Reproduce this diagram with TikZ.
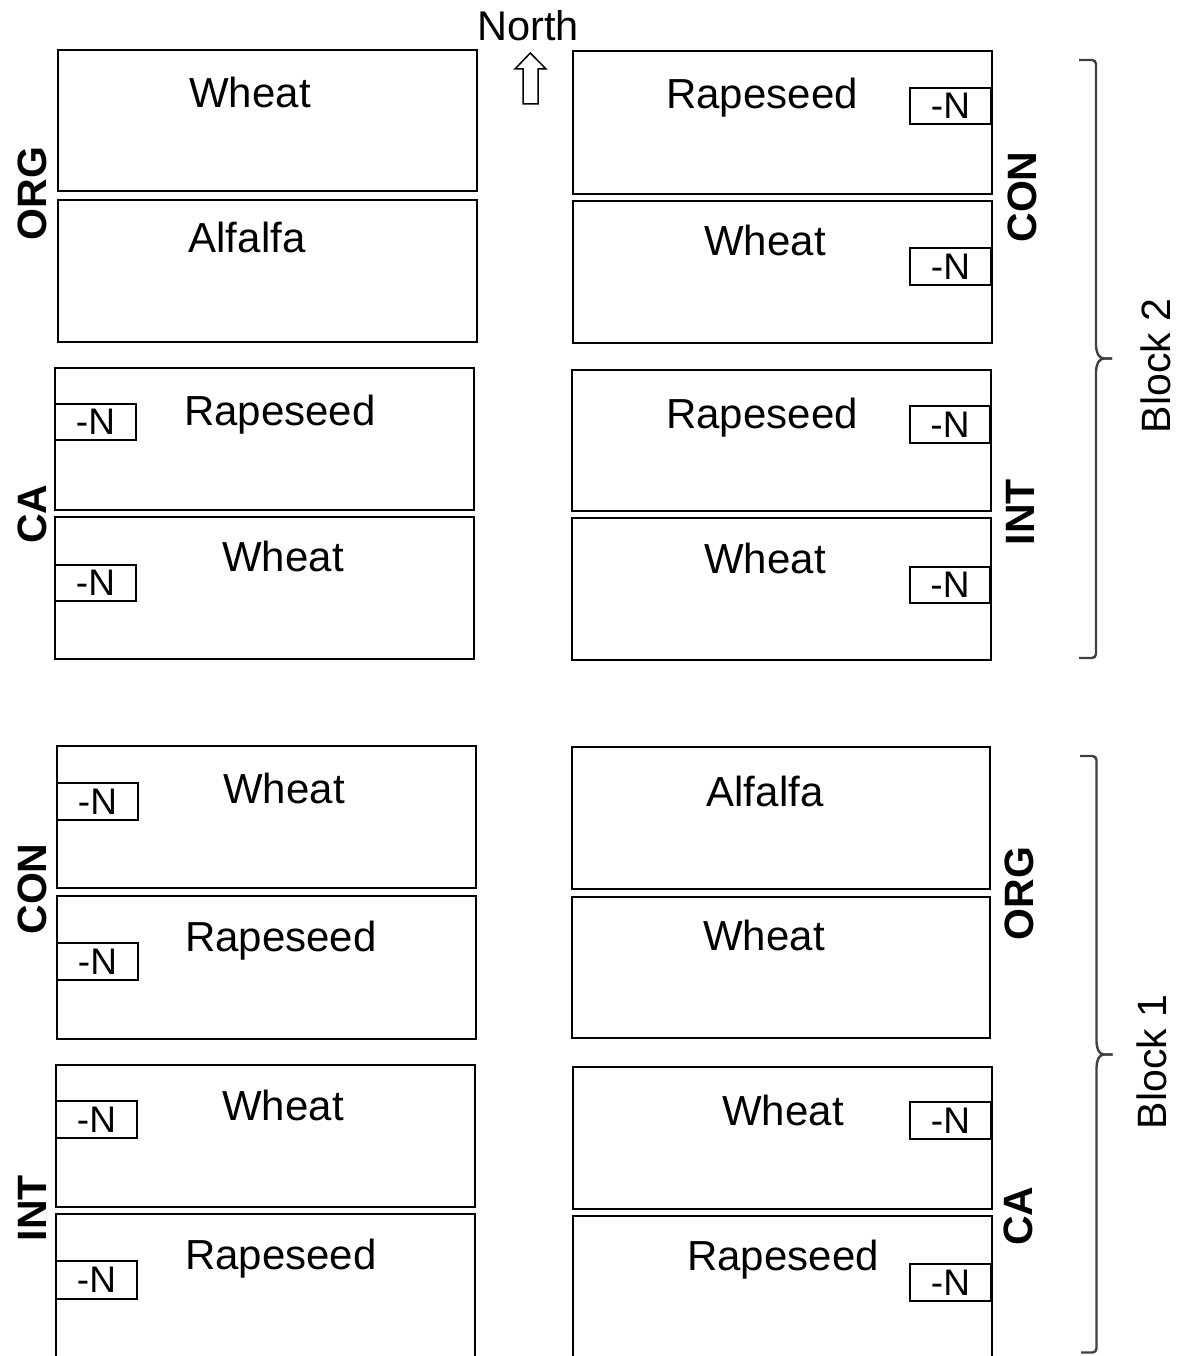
\documentclass[tikz,border=0pt]{standalone}
\usepackage{fontspec}
\setmainfont{Liberation Sans}
\begin{document}
\begin{tikzpicture}[x=1pt,y=-1pt,
  plotbox/.style={draw=black, line width=2pt, inner sep=0pt, outer sep=0pt},
  nbox/.style={draw=black, line width=2pt, inner sep=0pt, outer sep=0pt, font=\fontsize{37}{42}\selectfont},
  crop/.style={anchor=base, inner sep=0pt, font=\fontsize{42}{48}\selectfont},
  sys/.style={rotate=90, inner sep=0pt, font=\fontsize{41}{48}\selectfont\bfseries},
  blocklbl/.style={rotate=90, inner sep=0pt, font=\fontsize{41}{48}\selectfont},
  bracket/.style={draw=black!75, line width=2.4pt, rounded corners=4pt}]
\clip (0,0) rectangle (1180,1356);
\fill[white] (0,0) rectangle (1180,1356);
\newcommand{\fieldplot}[6]{%
  \pgfmathsetmacro{\fpw}{#4-#2}\pgfmathsetmacro{\fph}{#5-#3}%
  \node[#6, minimum width=\fpw pt, minimum height=\fph pt] (#1) at ({(#2+#4)/2},{(#3+#5)/2}) {};}
\newcommand{\nplot}[5]{%
  \pgfmathsetmacro{\fpw}{#4-#2}\pgfmathsetmacro{\fph}{#5-#3}%
  \node[nbox, minimum width=\fpw pt, minimum height=\fph pt] (#1) at ({(#2+#4)/2},{(#3+#5)/2}) {-N};}
% ---- left column, block 2
\fieldplot{L1}{58}{50}{477}{191}{plotbox}
\fieldplot{L2}{58}{200}{477}{342}{plotbox}
\fieldplot{L3}{55}{368}{474}{510}{plotbox}
\fieldplot{L4}{55}{517}{474}{659}{plotbox}
% ---- left column, block 1
\fieldplot{L5}{57}{746}{476}{888}{plotbox}
\fieldplot{L6}{57}{896}{476}{1039}{plotbox}
\fieldplot{L7}{56}{1065}{475}{1207}{plotbox}
\fieldplot{L8}{56}{1214}{475}{1380}{plotbox}
% ---- right column, block 2
\fieldplot{R1}{573}{51}{992}{194}{plotbox}
\fieldplot{R2}{573}{201}{992}{343}{plotbox}
\fieldplot{R3}{572}{370}{991}{511}{plotbox}
\fieldplot{R4}{572}{518}{991}{660}{plotbox}
% ---- right column, block 1
\fieldplot{R5}{572}{747}{990}{889}{plotbox}
\fieldplot{R6}{572}{897}{990}{1038}{plotbox}
\fieldplot{R7}{573}{1067}{992}{1209}{plotbox}
\fieldplot{R8}{573}{1216}{992}{1380}{plotbox}
% ---- -N boxes
\nplot{nL3}{55}{404}{136}{440}
\nplot{nL4}{55}{565}{136}{601}
\nplot{nL5}{57}{783}{138}{820}
\nplot{nL6}{57}{943}{138}{980}
\nplot{nL7}{56}{1101}{137}{1138}
\nplot{nL8}{56}{1261}{137}{1299}
\nplot{nR1}{910}{88}{991}{124}
\nplot{nR2}{910}{248}{991}{285}
\nplot{nR3}{910}{406}{990}{443}
\nplot{nR4}{910}{567}{990}{603}
\nplot{nR7}{910}{1102}{991}{1139}
\nplot{nR8}{910}{1264}{991}{1301}
% ---- crop names
\node[crop] (tL1) at (250,108) {Wheat};
\node[crop] (tL2) at (247,253) {Alfalfa};
\node[crop] (tL3) at (280,425) {Rapeseed};
\node[crop] (tL4) at (283,571) {Wheat};
\node[crop] (tL5) at (284,803) {Wheat};
\node[crop] (tL6) at (281,951) {Rapeseed};
\node[crop] (tL7) at (283,1120) {Wheat};
\node[crop] (tL8) at (281,1269) {Rapeseed};
\node[crop] (tR1) at (762,109) {Rapeseed};
\node[crop] (tR2) at (765,255) {Wheat};
\node[crop] (tR3) at (762,428) {Rapeseed};
\node[crop] (tR4) at (765,573) {Wheat};
\node[crop] (tR5) at (765,806) {Alfalfa};
\node[crop] (tR6) at (764,950) {Wheat};
\node[crop] (tR7) at (783,1125) {Wheat};
\node[crop] (tR8) at (783,1270) {Rapeseed};
% ---- system labels
\node[sys] (sL1) at (32,193.5) {ORG};
\node[sys] (sL2) at (32,514) {CA};
\node[sys] (sL3) at (32.5,889) {CON};
\node[sys] (sL4) at (32,1208) {INT};
\node[sys] (sR1) at (1022,197) {CON};
\node[sys] (sR2) at (1020,512) {INT};
\node[sys] (sR3) at (1019.5,893.5) {ORG};
\node[sys] (sR4) at (1018,1216) {CA};
% ---- north
\node[anchor=base, inner sep=0pt, font=\fontsize{41.5}{48}\selectfont] (north) at (528,41) {North};
\draw[line width=1.5pt, line join=miter] (530.3,53) -- (546,69) -- (538,69) -- (538,104) -- (523,104) -- (523,69) -- (515,69) -- cycle;
% ---- block brackets
\draw[bracket] (1079,60) -- (1096,60) -- (1096,350) -- (1100,358.5) -- (1112,358.5);
\draw[bracket] (1112,358.5) -- (1100,358.5) -- (1096,367) -- (1096,658) -- (1079,658);
\draw[bracket] (1080,756) -- (1096.5,756) -- (1096.5,1046) -- (1100,1054.5) -- (1112.5,1054.5);
\draw[bracket] (1112.5,1054.5) -- (1100,1054.5) -- (1096.5,1063) -- (1096.5,1352.5) -- (1081,1352.5);
\node[blocklbl] (b2) at (1156,366) {Block 2};
\node[blocklbl] (b1) at (1152,1062) {Block 1};
\end{tikzpicture}
\end{document}
